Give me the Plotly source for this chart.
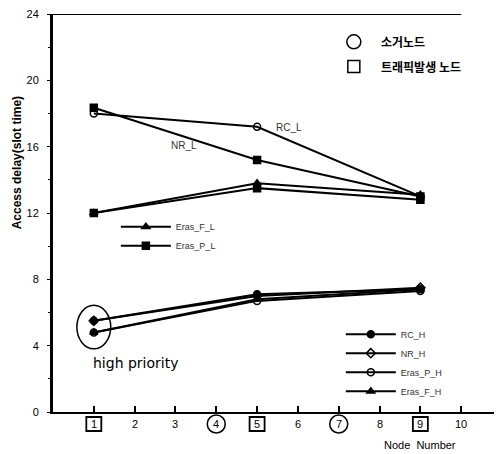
import plotly.graph_objects as go

# ---------------- data ----------------
nodes = [1, 5, 9]
RC_L = [18.0, 17.2, 13.0]
NR_L = [18.35, 15.2, 13.0]
Eras_P_L = [12.0, 13.5, 12.8]
Eras_F_L = [12.0, 13.8, 13.1]
RC_H = [5.5, 7.1, 7.4]
NR_H = [5.5, 7.0, 7.5]
Eras_P_H = [4.8, 6.7, 7.3]
Eras_F_H = [4.8, 6.8, 7.4]

x_ticks = [1, 2, 3, 4, 5, 6, 7, 8, 9, 10]
x_tick_labels = ["1", "2", "3", "4", "5", "6", "7", "8", "9", "10"]
traffic_nodes = [1, 5, 9]     # boxed
erased_nodes = [4, 7]         # circled
y_ticks = [0, 4, 8, 12, 16, 20, 24]

FONT = "Liberation Sans"
fig = go.Figure()

def add(name, y, symbol, legend, show=True):
    fig.add_trace(go.Scatter(
        x=nodes, y=y, name=name, mode="lines+markers",
        line=dict(color="black", width=2),
        marker=dict(symbol=symbol, size=7, color="black",
                    line=dict(color="black", width=1.5)),
        legend=legend, showlegend=show))

add("RC_L", RC_L, "circle-open", "legend", False)
add("NR_L", NR_L, "square", "legend", False)
add("Eras_F_L", Eras_F_L, "triangle-up", "legend")
add("Eras_P_L", Eras_P_L, "square", "legend")
add("RC_H", RC_H, "circle", "legend2")
add("NR_H", NR_H, "diamond-open", "legend2")
add("Eras_P_H", Eras_P_H, "circle-open", "legend2")
add("Eras_F_H", Eras_F_H, "triangle-up", "legend2")

annotations = []
# x tick labels
for v, t in zip(x_ticks, x_tick_labels):
    annotations.append(dict(
        x=v, y=0, xref="x", yref="paper", text=t, showarrow=False,
        xanchor="center", yanchor="middle", yshift=-12,
        font=dict(family=FONT, size=11, color="black")))
# axis titles
annotations.append(dict(x=0.817, y=-0.082, xref="paper", yref="paper",
                        xanchor="center", yanchor="middle",
                        text="Node  Number", showarrow=False,
                        font=dict(family=FONT, size=11, color="black")))
annotations.append(dict(x=-0.08, y=0.625, xref="paper", yref="paper",
                        xanchor="center", yanchor="middle", textangle=-90,
                        text="<b>Access delay(slot time)</b>", showarrow=False,
                        font=dict(family=FONT, size=12, color="black")))
# inline labels
annotations.append(dict(x=3.21, y=16.07, text="NR_L", showarrow=False,
                        xanchor="center",
                        font=dict(family=FONT, size=10, color="#333")))
annotations.append(dict(x=5.42, y=17.14, text="RC_L", showarrow=False,
                        xanchor="left",
                        font=dict(family=FONT, size=10, color="#333")))
annotations.append(dict(x=2.03, y=2.98, text="high priority", showarrow=False,
                        xanchor="center",
                        font=dict(family="DejaVu Sans", size=14, color="black")))
# Korean key
annotations.append(dict(x=7.98, y=22.32, text="<b>소거노드</b>", showarrow=False,
                        xanchor="left",
                        font=dict(family="Noto Sans CJK KR", size=12, color="black")))
annotations.append(dict(x=7.98, y=20.83, text="<b>트래픽발생 노드</b>", showarrow=False,
                        xanchor="left",
                        font=dict(family="Noto Sans CJK KR", size=12, color="black")))

shapes = []
for v in erased_nodes:
    shapes.append(dict(type="circle", xref="x", yref="paper", xsizemode="pixel",
                       ysizemode="pixel", xanchor=v, yanchor=0,
                       x0=-9, x1=9, y0=-21, y1=-3,
                       line=dict(color="black", width=1.5)))
for v in traffic_nodes:
    shapes.append(dict(type="rect", xref="x", yref="paper", xsizemode="pixel",
                       ysizemode="pixel", xanchor=v, yanchor=0,
                       x0=-7.5, x1=7.5, y0=-19, y1=-5,
                       line=dict(color="black", width=1.8)))
# high priority ellipse
shapes.append(dict(type="circle", xref="x", yref="y",
                   x0=0.585, x1=1.415, y0=3.81, y1=6.43,
                   line=dict(color="black", width=1.5)))
# key symbols
shapes.append(dict(type="circle", xref="x", yref="y", xsizemode="pixel",
                   ysizemode="pixel", xanchor=7.37, yanchor=22.32,
                   x0=-7, x1=7, y0=-7, y1=7, line=dict(color="black", width=1.5)))
shapes.append(dict(type="rect", xref="x", yref="y", xsizemode="pixel",
                   ysizemode="pixel", xanchor=7.37, yanchor=20.83,
                   x0=-6, x1=6, y0=-6, y1=6, line=dict(color="black", width=1.5)))
# top frame line
shapes.append(dict(type="line", xref="x", yref="y", x0=0, x1=10, y0=24, y1=24,
                   line=dict(color="black", width=2)))

# the page body has an 8px default margin, so the figure is sized to fit
fig.update_layout(
    width=494, height=446,
    margin=dict(l=45, r=0, t=6, b=42),
    paper_bgcolor="white", plot_bgcolor="white",
    font=dict(family=FONT, size=11, color="black"),
    annotations=annotations, shapes=shapes,
    legend=dict(x=0.14, y=0.502, xanchor="left", yanchor="top",
                font=dict(family=FONT, size=9, color="#333"),
                bgcolor="rgba(0,0,0,0)", tracegroupgap=0, itemwidth=50),
    legend2=dict(x=0.641, y=0.232, xanchor="left", yanchor="top",
                 font=dict(family=FONT, size=9, color="#333"),
                 bgcolor="rgba(0,0,0,0)", tracegroupgap=0, itemwidth=50),
)
fig.update_xaxes(range=[0, 11], showgrid=False, zeroline=False,
                 showline=True, linecolor="black", linewidth=2,
                 tickvals=x_ticks, ticks="inside", ticklen=6, tickwidth=1.5,
                 tickcolor="black", showticklabels=False, automargin=False)
fig.update_yaxes(range=[0, 24], showgrid=False, zeroline=False,
                 showline=True, linecolor="black", linewidth=3,
                 tickvals=y_ticks, ticks="outside", ticklen=3, tickwidth=1,
                 tickcolor="black", ticklabelstandoff=6, automargin=False,
                 ticklabeloverflow="allow",
                 minor=dict(dtick=2, ticks="outside", ticklen=2, tickcolor="black"),
                 tickfont=dict(family=FONT, size=11))
fig.write_html("out.html")
